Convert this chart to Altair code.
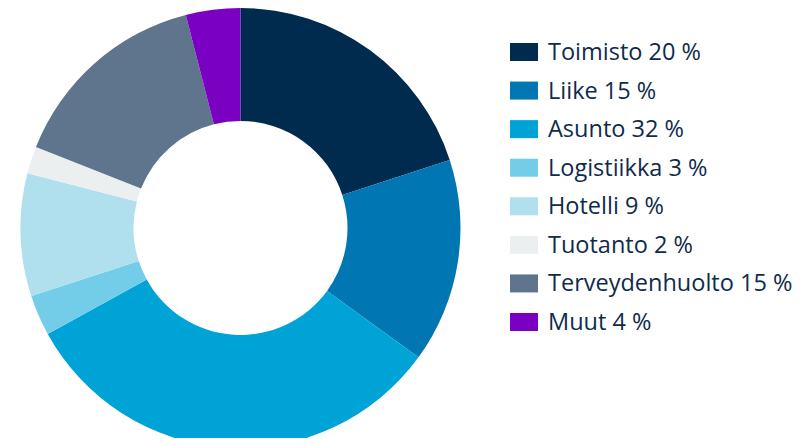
import altair as alt
import pandas as pd

categories = ["Toimisto", "Liike", "Asunto", "Logistiikka", "Hotelli", "Tuotanto", "Terveydenhuolto", "Muut"]
values = [20, 15, 32, 3, 9, 2, 15, 4]
colors = ["#002A4E", "#0077B3", "#00A3D6", "#73CDE8", "#B0DFED", "#EBEFF0", "#5E758D", "#7A00C2"]

labels = [f"{c} {v} %" for c, v in zip(categories, values)]
df = pd.DataFrame({"cat": categories, "value": values, "idx": list(range(len(categories))), "label": labels})

color = alt.Color("cat:N", scale=alt.Scale(domain=categories, range=colors), legend=None)

donut = alt.Chart(df).mark_arc(outerRadius=220, innerRadius=107).encode(
    theta=alt.Theta("value:Q", stack=True),
    order=alt.Order("idx:Q"),
    color=color,
    x=alt.value(232.5),
    y=alt.value(220),
)

yenc = alt.Y("cat:N", sort=categories, axis=None,
             scale=alt.Scale(type="point", range=[44, 314], padding=0))

sym = alt.Chart(df).mark_point(
    shape="M-1,-0.643L1,-0.643L1,0.643L-1,0.643Z", size=784, filled=True, opacity=1, strokeWidth=0
).encode(y=yenc, x=alt.value(516), color=color)

txt = alt.Chart(df).mark_text(
    align="left", baseline="middle", font="Open Sans", fontSize=23.5, color="#0F2B4B", dx=0, dy=1
).encode(y=yenc, x=alt.value(540), text="label:N")

chart = alt.layer(donut, sym, txt).resolve_scale(y="independent").properties(
    width=791, height=430, autosize=alt.AutoSizeParams(type="none"), padding=0
).configure_view(stroke=None)

chart.save("out.html", embed_options={"renderer": "svg", "actions": False})
